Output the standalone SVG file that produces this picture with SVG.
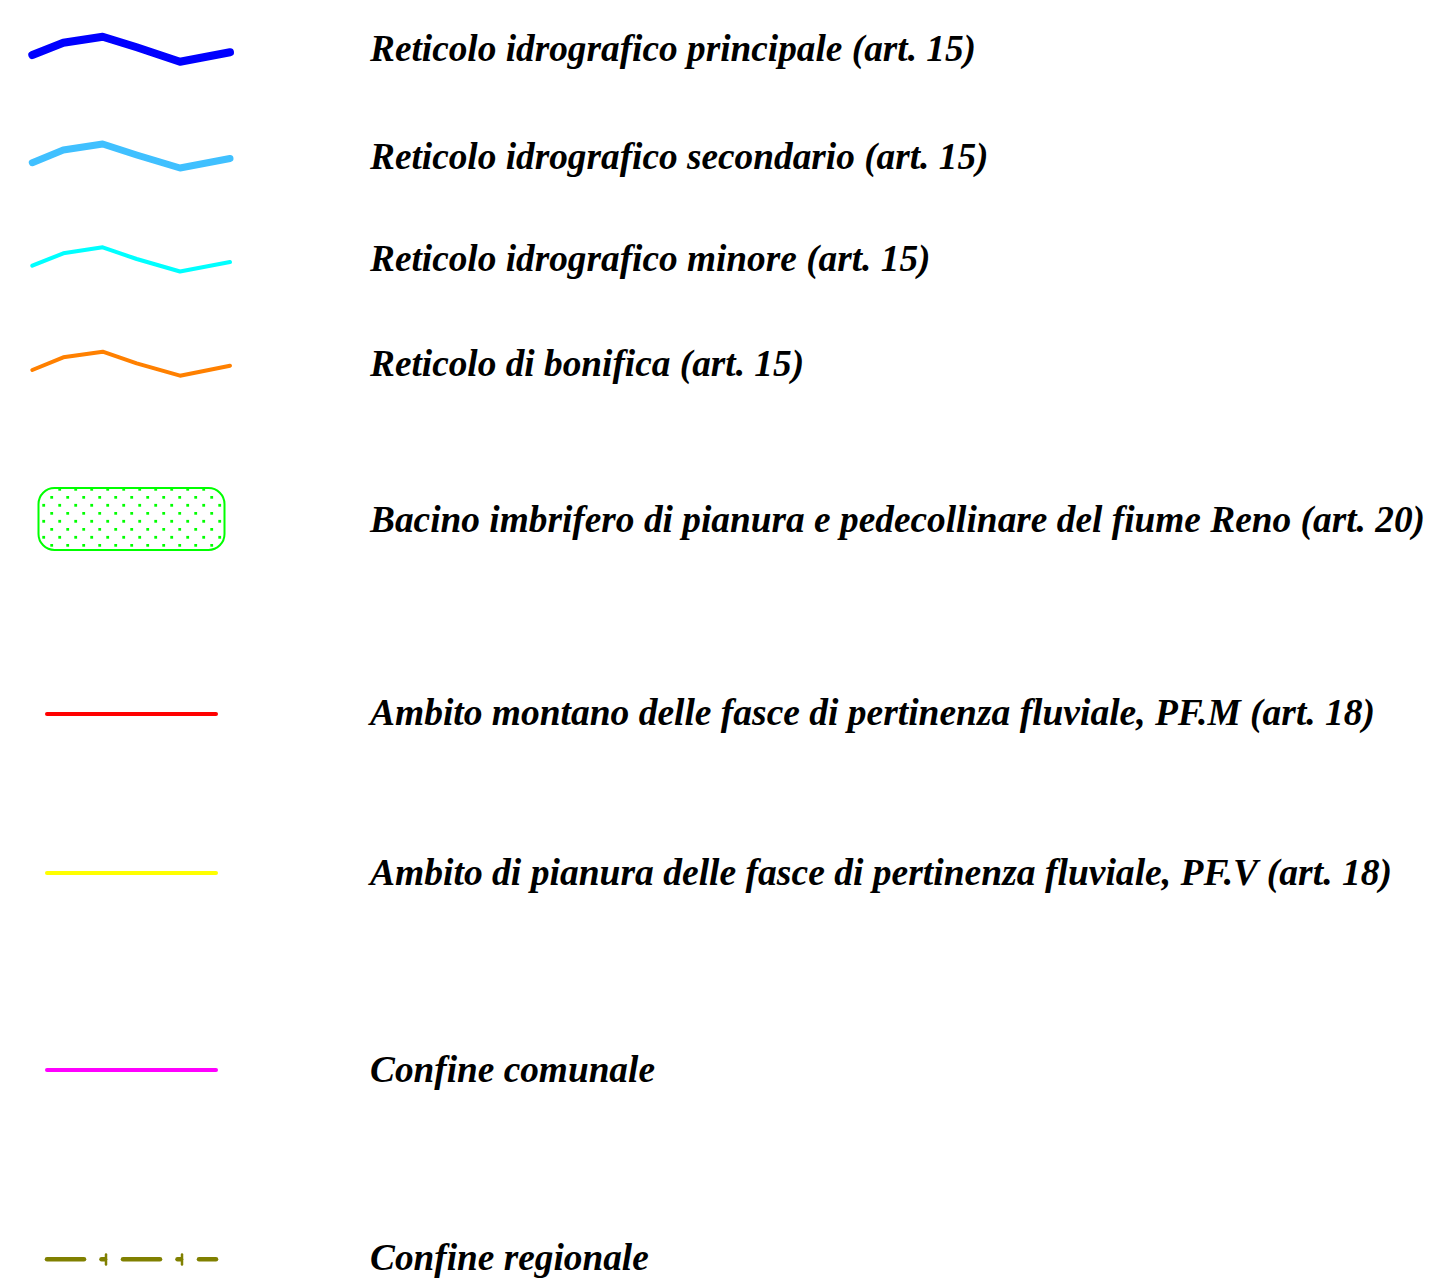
<svg xmlns="http://www.w3.org/2000/svg" width="1430" height="1288" viewBox="0 0 1430 1288">
  <style>
    .lbl { font-family: "Liberation Serif", "Times New Roman", serif; font-weight: bold; font-style: italic; font-size: 37.3px; fill: #000; }
    .sym { fill: none; stroke-linecap: round; stroke-linejoin: round; }
  </style>
  <defs>
    <pattern id="dots" patternUnits="userSpaceOnUse" x="0" y="0" width="16" height="16">
      <rect x="2.3" y="-0.1" width="2.8" height="2.8" fill="#00ff00"/>
      <rect x="10.3" y="7.9" width="2.8" height="2.8" fill="#00ff00"/>
    </pattern>
  </defs>
  <rect x="0" y="0" width="1430" height="1288" fill="#ffffff"/>

  <g id="principale">
    <polyline class="sym" points="32.3,55 63.3,42.7 102.7,36.7 136.7,47.3 180,61.7 230,52.3" stroke="#0000ff" stroke-width="8"/>
    <text class="lbl" x="370" y="61">Reticolo idrografico principale (art. 15)</text>
  </g>
  <g id="secondario">
    <polyline class="sym" points="32.3,162.7 63.3,150 102.7,144 136.7,155 180,168 230,158.5" stroke="#40c0ff" stroke-width="7"/>
    <text class="lbl" x="370" y="169">Reticolo idrografico secondario (art. 15)</text>
  </g>
  <g id="minore">
    <polyline class="sym" points="32.3,265.7 63.3,253.3 102.7,247.3 136.7,259 180,271.5 230,262" stroke="#00ffff" stroke-width="4"/>
    <text class="lbl" x="370" y="271">Reticolo idrografico minore (art. 15)</text>
  </g>
  <g id="bonifica">
    <polyline class="sym" points="32.3,370 63.3,357.3 102.7,351.7 136.7,363.3 180,375.7 230,365.7" stroke="#ff8000" stroke-width="4"/>
    <text class="lbl" x="370" y="376">Reticolo di bonifica (art. 15)</text>
  </g>
  <g id="bacino">
    <rect x="38.5" y="488" width="186" height="62" rx="16" ry="16" fill="url(#dots)" stroke="#00ff00" stroke-width="2"/>
    <text class="lbl" x="370" y="532" textLength="1055" lengthAdjust="spacingAndGlyphs">Bacino imbrifero di pianura e pedecollinare del fiume Reno (art. 20)</text>
  </g>
  <g id="pfm">
    <line class="sym" x1="47" y1="714" x2="216" y2="714" stroke="#ff0000" stroke-width="4"/>
    <text class="lbl" x="370" y="725" textLength="1005" lengthAdjust="spacingAndGlyphs">Ambito montano delle fasce di pertinenza fluviale, PF.M (art. 18)</text>
  </g>
  <g id="pfv">
    <line class="sym" x1="47" y1="873" x2="216" y2="873" stroke="#ffff00" stroke-width="4"/>
    <text class="lbl" x="370" y="885" textLength="1022" lengthAdjust="spacingAndGlyphs">Ambito di pianura delle fasce di pertinenza fluviale, PF.V (art. 18)</text>
  </g>
  <g id="comunale">
    <line class="sym" x1="47" y1="1070" x2="216" y2="1070" stroke="#ff00ff" stroke-width="4"/>
    <text class="lbl" x="370" y="1082">Confine comunale</text>
  </g>
  <g id="regionale">
    <g stroke="#808000" class="sym">
      <line x1="47" y1="1259.3" x2="84" y2="1259.3" stroke-width="4.5"/>
      <line x1="101.5" y1="1259.3" x2="105" y2="1259.3" stroke-width="4.5"/>
      <line x1="106" y1="1254.5" x2="106" y2="1264.5" stroke-width="2.5"/>
      <line x1="123" y1="1259.3" x2="160" y2="1259.3" stroke-width="4.5"/>
      <line x1="177.5" y1="1259.3" x2="181" y2="1259.3" stroke-width="4.5"/>
      <line x1="182" y1="1254.5" x2="182" y2="1264.5" stroke-width="2.5"/>
      <line x1="199" y1="1259.3" x2="216" y2="1259.3" stroke-width="4.5"/>
    </g>
    <text class="lbl" x="370" y="1270">Confine regionale</text>
  </g>
</svg>
